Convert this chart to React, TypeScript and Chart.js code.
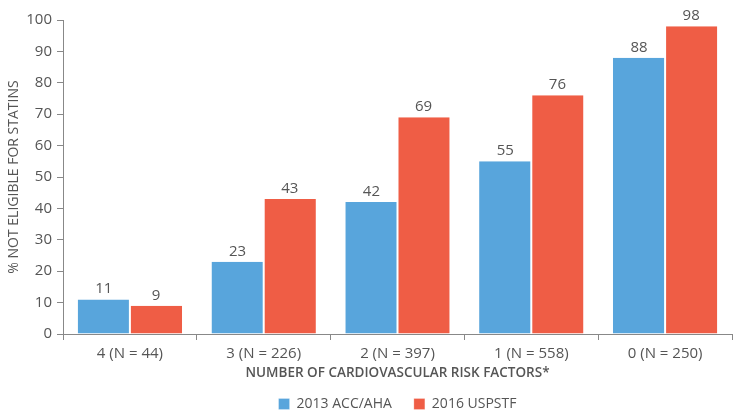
import React, { useEffect, useRef } from "react";
import { Chart, registerables } from "chart.js";

Chart.register(...registerables);

const categories = ["4 (N = 44)", "3 (N = 226)", "2 (N = 397)", "1 (N = 558)", "0 (N = 250)"];
const accAha2013 = [11, 23, 42, 55, 88];
const uspstf2016 = [9, 43, 69, 76, 98];
const seriesNames = ["2013 ACC/AHA", "2016 USPSTF"];
const yTicks = [0, 10, 20, 30, 40, 50, 60, 70, 80, 90, 100];

const FONT = "'Open Sans', 'Noto Sans', sans-serif";
const TEXT = "#555555";

const valueLabels = {
  id: "valueLabels",
  afterDatasetsDraw(chart: any) {
    const ctx = chart.ctx;
    ctx.save();
    ctx.font = `15px ${FONT}`;
    ctx.fillStyle = TEXT;
    ctx.textAlign = "center";
    ctx.textBaseline = "alphabetic";
    chart.data.datasets.forEach((ds: any, i: number) => {
      const meta = chart.getDatasetMeta(i);
      meta.data.forEach((bar: any, j: number) => {
        ctx.fillText(String(ds.data[j]), bar.x, bar.y - 6);
      });
    });
    ctx.restore();
  },
};

export default function App() {
  const ref = useRef<HTMLCanvasElement>(null);
  useEffect(() => {
    const chart = new Chart(ref.current!, {
      type: "bar",
      data: {
        labels: categories,
        datasets: [
          {
            label: seriesNames[0],
            data: accAha2013,
            backgroundColor: "#58A5DC",
            borderColor: "#ffffff",
            borderWidth: { left: 0, right: 1, top: 0, bottom: 0 },
            categoryPercentage: 0.78,
            barPercentage: 1,
          },
          {
            label: seriesNames[1],
            data: uspstf2016,
            backgroundColor: "#EF5D45",
            borderColor: "#ffffff",
            borderWidth: { left: 1, right: 0, top: 0, bottom: 0 },
            categoryPercentage: 0.78,
            barPercentage: 1,
          },
        ],
      },
      options: {
        animation: false,
        responsive: true,
        maintainAspectRatio: false,
        layout: { padding: { top: 20, right: 9, left: 0, bottom: -1 } },
        plugins: {
          legend: {
            position: "bottom",
            fullSize: false,
            labels: {
              boxWidth: 11,
              boxHeight: 11,
              padding: 22,
              color: TEXT,
              font: { family: FONT, size: 14 },
            },
          },
          tooltip: { enabled: false },
        },
        scales: {
          x: {
            offset: true,
            afterFit: (scale: any) => {
              scale.height = 41;
            },
            grid: {
              display: true,
              offset: true,
              drawOnChartArea: false,
              drawTicks: true,
              tickLength: 6,
              color: "#888888",
            },
            border: { display: true, color: "#888888", width: 1 },
            ticks: { color: TEXT, font: { family: FONT, size: 15 }, padding: 5 },
            title: {
              display: true,
              text: "NUMBER OF CARDIOVASCULAR RISK FACTORS*",
              color: TEXT,
              font: { family: FONT, size: 13.5, weight: "600" },
              padding: { top: 2, bottom: -6.4 },
            },
          },
          y: {
            min: 0,
            max: 100,
            afterBuildTicks: (axis: any) => {
              axis.ticks = yTicks.map((v) => ({ value: v }));
            },
            afterFit: (scale: any) => {
              scale.width = 63;
            },
            grid: {
              display: true,
              drawOnChartArea: false,
              drawTicks: true,
              tickLength: 6,
              color: "#888888",
            },
            border: { display: true, color: "#888888", width: 1 },
            ticks: { color: TEXT, font: { family: FONT, size: 15 }, padding: 5 },
            title: {
              display: true,
              text: "% NOT ELIGIBLE FOR STATINS",
              color: TEXT,
              font: { family: FONT, size: 14 },
              padding: { top: 6, bottom: 3 },
            },
          },
        },
      },
      plugins: [valueLabels],
    });
    return () => chart.destroy();
  }, []);
  return (
    <div style={{ position: "fixed", left: 0, top: 0, width: 741, height: 420, background: "#fff" }}>
      <canvas ref={ref} />
    </div>
  );
}
